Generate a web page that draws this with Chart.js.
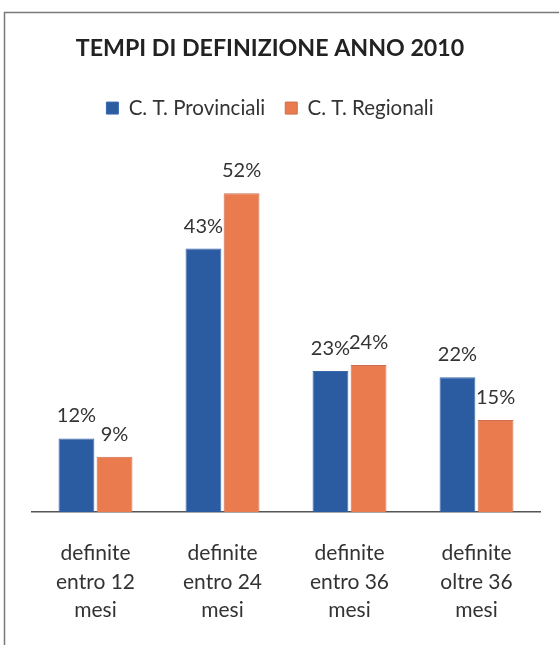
<!DOCTYPE html>
<html>
<head>
<meta charset="utf-8">
<script src="https://cdn.jsdelivr.net/npm/chart.js@4"></script>
<style>
  body { margin: 0; background: #fff; }
  #wrap { width: 559px; height: 645px; }
</style>
</head>
<body>
<div id="wrap"><canvas id="chart" width="559" height="645"></canvas></div>
<script>
// data
const categories = [
    ['definite', 'entro 12', 'mesi'],
    ['definite', 'entro 24', 'mesi'],
    ['definite', 'entro 36', 'mesi'],
    ['definite', 'oltre 36', 'mesi']
];
const provinciali = [12, 43, 23, 22];
const regionali = [9, 52, 24, 15];
const seriesNames = ['C. T. Provinciali', 'C. T. Regionali'];

const FONT = 'Lato, "Open Sans", sans-serif';

// grey frame, only top and left edges are visible in the scan
const framePlugin = {
    id: 'frame',
    beforeInit(chart) {
        // extra room under the legend
        const fit = chart.legend.fit;
        chart.legend.fit = function () {
            fit.call(this);
            this.height += 16;
        };
    },
    beforeDraw(chart) {
        const ctx = chart.ctx;
        ctx.save();
        ctx.fillStyle = '#fff';
        ctx.fillRect(0, 0, chart.width, chart.height);
        ctx.strokeStyle = '#7a7a7a';
        ctx.lineWidth = 1.5;
        ctx.beginPath();
        ctx.moveTo(559, 12.5);
        ctx.lineTo(4.5, 12.5);
        ctx.lineTo(4.5, 645);
        ctx.stroke();
        ctx.restore();
    }
};

// percent labels above each bar
const valueLabels = {
    id: 'valueLabels',
    afterDatasetsDraw(chart) {
        const ctx = chart.ctx;
        ctx.save();
        ctx.font = '20px ' + FONT;
        ctx.fillStyle = '#333';
        ctx.textAlign = 'center';
        ctx.textBaseline = 'alphabetic';
        chart.data.datasets.forEach((ds, i) => {
            chart.getDatasetMeta(i).data.forEach((bar, j) => {
                ctx.fillText(ds.data[j] + '%', bar.x, bar.y - 16);
            });
        });
        ctx.restore();
    }
};

const chart = new Chart(document.getElementById('chart'), {
    type: 'bar',
    data: {
        labels: categories,
        datasets: [{
            label: seriesNames[0],
            data: provinciali,
            backgroundColor: '#2b5ba0',
            borderColor: '#3a6aae',
            borderWidth: 1,
            categoryPercentage: 0.6,
            barPercentage: 0.94
        }, {
            label: seriesNames[1],
            data: regionali,
            backgroundColor: '#e97b4e',
            borderColor: '#cf6e4c',
            borderWidth: 1,
            categoryPercentage: 0.6,
            barPercentage: 0.94
        }]
    },
    options: {
        responsive: false,
        animation: false,
        layout: {
            padding: { left: 0, right: 19, top: 35, bottom: 20 }
        },
        scales: {
            x: {
                grid: { display: false, drawTicks: false },
                border: { display: true, color: '#555', width: 1.5 },
                ticks: {
                    color: '#333',
                    padding: 27,
                    maxRotation: 0,
                    font: { family: FONT, size: 21, lineHeight: 1.36 }
                },
                afterFit(scale) {
                    scale.height = 113;
                }
            },
            y: {
                // invisible axis, only reserves the left margin
                display: true,
                min: 0,
                max: 60,
                grid: { display: false },
                border: { display: false },
                ticks: { display: false },
                afterFit(scale) {
                    scale.width = 32;
                }
            }
        },
        plugins: {
            title: {
                display: true,
                text: 'TEMPI DI DEFINIZIONE ANNO 2010',
                color: '#222',
                font: { family: FONT, size: 23.2, weight: 'bold' },
                padding: { top: 0, bottom: 15 }
            },
            legend: {
                labels: {
                    color: '#333',
                    boxWidth: 12,
                    boxHeight: 12,
                    padding: 20,
                    font: { family: FONT, size: 20.5 }
                }
            },
            tooltip: { enabled: false }
        }
    },
    plugins: [framePlugin, valueLabels]
});
</script>
</body>
</html>
